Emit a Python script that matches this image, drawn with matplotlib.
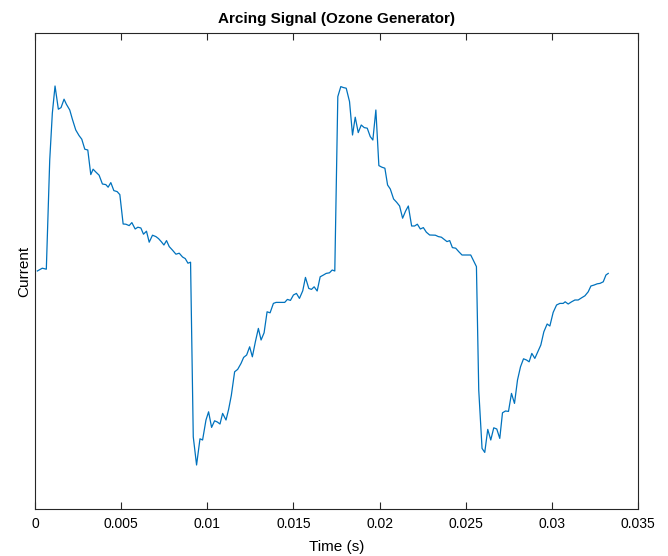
import matplotlib
matplotlib.use('Agg')
import matplotlib.pyplot as plt
import numpy as np

plt.rcParams['font.family'] = ['Liberation Sans', 'DejaVu Sans']

# time in ms, current in arbitrary units
timeMs = [
    0.134, 0.424, 0.657, 0.855, 1.006, 1.163, 1.355, 1.512, 1.686, 1.820,
    2.017, 2.169, 2.366, 2.558, 2.715, 2.890, 3.064, 3.238, 3.372, 3.529,
    3.721, 3.913, 4.110, 4.244, 4.401, 4.576, 4.767, 4.924, 5.116, 5.273,
    5.465, 5.622, 5.814, 5.971, 6.145, 6.297, 6.471, 6.628, 6.820, 7.017,
    7.169, 7.326, 7.483, 7.634, 7.791, 7.983, 8.180, 8.372, 8.564, 8.721,
    8.878, 9.029, 9.186, 9.378, 9.576, 9.727, 9.924, 10.076, 10.250, 10.424,
    10.581, 10.738, 10.890, 11.087, 11.238, 11.395, 11.587, 11.762, 11.959, 12.110,
    12.285, 12.459, 12.616, 12.791, 12.965, 13.122, 13.297, 13.471, 13.645, 13.837,
    13.994, 14.186, 14.494, 14.651, 14.826, 15.000, 15.174, 15.349, 15.541, 15.698,
    15.890, 16.047, 16.203, 16.378, 16.552, 16.744, 16.901, 17.093, 17.250, 17.401,
    17.576, 17.750, 17.907, 18.064, 18.256, 18.430, 18.587, 18.762, 18.936, 19.110,
    19.285, 19.459, 19.610, 19.785, 19.959, 20.134, 20.308, 20.465, 20.622, 20.814,
    20.988, 21.163, 21.337, 21.512, 21.669, 21.861, 22.035, 22.192, 22.366, 22.541,
    22.715, 22.907, 23.238, 23.413, 23.587, 23.738, 23.913, 24.070, 24.227, 24.419,
    24.593, 24.785, 25.291, 25.465, 25.622, 25.756, 25.948, 26.105, 26.279, 26.454,
    26.628, 26.802, 26.977, 27.134, 27.308, 27.483, 27.657, 27.831, 28.006, 28.180,
    28.355, 28.529, 28.680, 28.837, 29.012, 29.186, 29.360, 29.535, 29.727, 29.884,
    30.076, 30.273, 30.465, 30.657, 30.773, 30.948, 31.145, 31.337, 31.529, 31.727,
    31.919, 32.110, 32.267, 32.459, 32.634, 32.791, 32.983, 33.140, 33.273,
]
current = [
    0.000, 0.014, 0.009, 0.555, 0.789, 0.925, 0.809, 0.817, 0.859, 0.834,
    0.805, 0.759, 0.705, 0.677, 0.659, 0.609, 0.605, 0.482, 0.509, 0.495,
    0.479, 0.435, 0.432, 0.419, 0.442, 0.402, 0.397, 0.382, 0.235, 0.234,
    0.227, 0.242, 0.210, 0.219, 0.215, 0.184, 0.199, 0.144, 0.179, 0.172,
    0.162, 0.147, 0.130, 0.152, 0.122, 0.104, 0.084, 0.089, 0.070, 0.062,
    0.039, 0.044, -0.829, -0.970, -0.839, -0.845, -0.745, -0.704, -0.782, -0.749,
    -0.755, -0.765, -0.712, -0.745, -0.692, -0.622, -0.504, -0.492, -0.462, -0.432,
    -0.420, -0.379, -0.429, -0.354, -0.287, -0.345, -0.309, -0.204, -0.209, -0.162,
    -0.157, -0.157, -0.157, -0.142, -0.147, -0.120, -0.112, -0.137, -0.099, -0.032,
    -0.087, -0.092, -0.079, -0.100, -0.029, -0.020, -0.012, -0.009, 0.005, 0.000,
    0.872, 0.922, 0.917, 0.914, 0.847, 0.680, 0.769, 0.692, 0.730, 0.717,
    0.714, 0.672, 0.655, 0.805, 0.527, 0.519, 0.514, 0.430, 0.410, 0.360,
    0.344, 0.325, 0.264, 0.300, 0.325, 0.225, 0.225, 0.234, 0.210, 0.217,
    0.194, 0.180, 0.179, 0.172, 0.169, 0.159, 0.147, 0.152, 0.117, 0.114,
    0.097, 0.080, 0.080, 0.050, 0.022, -0.595, -0.887, -0.907, -0.792, -0.845,
    -0.784, -0.790, -0.837, -0.709, -0.700, -0.702, -0.612, -0.662, -0.545, -0.479,
    -0.439, -0.445, -0.454, -0.412, -0.437, -0.404, -0.370, -0.304, -0.265, -0.275,
    -0.207, -0.170, -0.162, -0.162, -0.154, -0.165, -0.154, -0.145, -0.145, -0.134,
    -0.124, -0.104, -0.075, -0.070, -0.064, -0.062, -0.054, -0.020, -0.012,
]
xTicks = [0, 0.005, 0.01, 0.015, 0.02, 0.025, 0.03, 0.035]
xTickLabels = ['0', '0.005', '0.01', '0.015', '0.02', '0.025', '0.03', '0.035']

time = np.array(timeMs) / 1000.0

fig = plt.figure(figsize=(6.68, 5.56), dpi=100)
ax = fig.add_axes([35 / 668, 47 / 556, 603 / 668, 476 / 556])

ax.plot(time, current, color=(0, 0.447, 0.741), linewidth=0.9)

ax.set_xlim(0, 0.035)
ax.set_ylim(-1.19, 1.19)
ax.set_xticks(xTicks)
ax.set_xticklabels(xTickLabels)
ax.set_yticks([])
ax.tick_params(axis='x', direction='in', length=5, width=0.8, top=True,
               labelsize=10, pad=6, colors='#262626')
ax.tick_params(axis='x', labelcolor='black')
for spine in ax.spines.values():
    spine.set_linewidth(0.8)
    spine.set_color('#262626')

ax.set_title('Arcing Signal (Ozone Generator)', fontsize=11, fontweight='bold', pad=7)
ax.set_xlabel('Time (s)', fontsize=11, labelpad=6)
ax.set_ylabel('Current', fontsize=11, labelpad=3)

fig.savefig('out.png', dpi=100)
